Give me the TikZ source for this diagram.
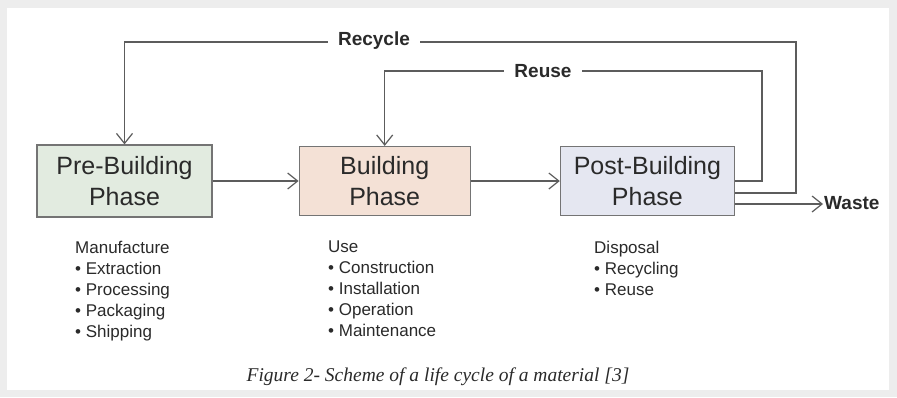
\documentclass[tikz,border=0pt]{standalone}
\usepackage{fontspec}
\setmainfont{Liberation Sans}
\newfontfamily\capfont{Liberation Serif}
\usetikzlibrary{arrows.meta,positioning}
\definecolor{lcline}{HTML}{5C5C5C}
\definecolor{lcgreen}{HTML}{E2EBE0}
\definecolor{lcpeach}{HTML}{F4E1D6}
\definecolor{lcblue}{HTML}{E5E7F1}
\definecolor{lcframe}{HTML}{EDEDED}
\definecolor{lctext}{HTML}{2A2A2A}
\tikzset{
  phase/.style={draw=lcline!85, line width=1.2pt, align=center, minimum height=69pt,
                inner sep=2pt, text=lctext, font=\fontsize{25}{31}\selectfont},
  prephase/.style={phase, fill=lcgreen, minimum width=175pt, minimum height=72pt},
  bldphase/.style={phase, fill=lcpeach, minimum width=171pt},
  postphase/.style={phase, fill=lcblue, minimum width=174pt},
  arr/.style={-{Straight Barb[length=10pt,width=16pt]}, line width=1.2pt, draw=lcline},
  lbl/.style={fill=white, text=lctext, inner xsep=10pt, inner ysep=2pt,
              font=\bfseries\fontsize{19}{22}\selectfont},
  stages/.style={align=left, anchor=north west, inner sep=0pt, text=lctext,
                 font=\fontsize{17}{21}\selectfont},
}

\begin{document}
\begin{tikzpicture}[x=1pt, y=-1pt]
    % frame
    \fill[lcframe] (0,0) rectangle (897,397);
    \fill[white] (7,8) rectangle (889,390);

    % phases
    \node[prephase]                   (pre)  at (124.5,181) {Pre-Building\\Phase};
    \node[bldphase, right=86pt of pre] (bldg) {Building\\Phase};
    \node[postphase, right=89pt of bldg] (post) {Post-Building\\Phase};
    \node[anchor=west, inner sep=1pt, text=lctext, font=\bfseries\fontsize{19}{22}\selectfont]
          (waste) at (823,203) {Waste};

    % loop corners
    \coordinate (ruc) at (762,71);
    \coordinate (rcc) at (796,42);

    \draw[arr] (pre.east) -- (pre.east -| bldg.west);
    \draw[arr] (bldg.east) -- (bldg.east -| post.west);
    \draw[arr] (post.east) -| (ruc) -| (bldg.north);
    \draw[arr] ([yshift=-12pt]post.east) -| (rcc) -| (pre.north);
    \draw[arr] ([yshift=-23pt]post.east) -- ([yshift=-23pt]post.east -| waste.west);

    \node[lbl] (reuselbl)   at (543,71) {Reuse};
    \node[lbl] (recyclelbl) at (374,41) {Recycle};

    % stages
    \node[stages] (mfg) at (75,241) {Manufacture\\• Extraction\\• Processing\\• Packaging\\• Shipping};
    \node[stages] (use) at (328,241) {Use\\• Construction\\• Installation\\• Operation\\• Maintenance};
    \node[stages] (dsp) at (594,241) {Disposal\\• Recycling\\• Reuse};

    \node[text=lctext, font=\capfont\itshape\fontsize{19.5}{22}\selectfont] (caption) at (438,377)
          {Figure 2- Scheme of a life cycle of a material [3]};
\end{tikzpicture}
\end{document}
